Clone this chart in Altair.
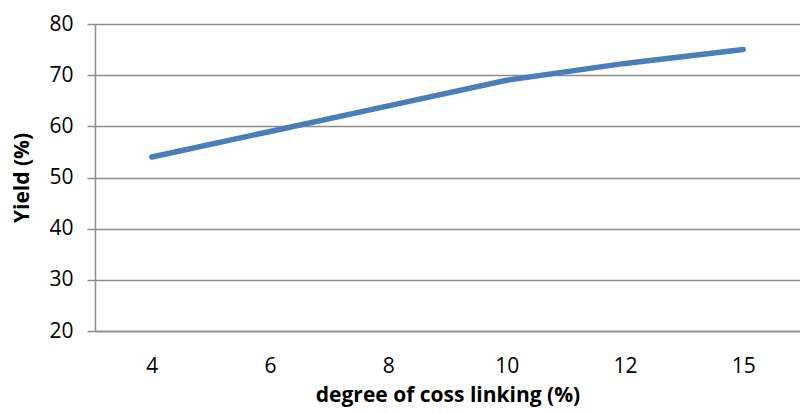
import altair as alt
import pandas as pd

crosslink = ["4", "6", "8", "10", "12", "15"]
yield_pct = [54, 59, 64, 69, 72.3, 75]

df = pd.DataFrame({"x": crosslink, "y": yield_pct})

FONT = "Open Sans"
GRID = "#8c8c8c"

chart = alt.Chart(df).mark_line(color="#4a7ebb", strokeWidth=5.5, strokeCap="round").encode(
    x=alt.X("x:O", sort=crosslink,
            scale=alt.Scale(type="point", padding=0.48),
            axis=alt.Axis(title="degree of coss linking (%)", labelAngle=0,
                          ticks=False, domain=True, domainColor=GRID, domainWidth=1.5,
                          labelPadding=24, titlePadding=8, grid=False)),
    y=alt.Y("y:Q",
            scale=alt.Scale(domain=[20, 80]),
            axis=alt.Axis(title="Yield (%)", values=[20, 30, 40, 50, 60, 70, 80],
                          tickSize=8, tickColor=GRID, tickWidth=1.5,
                          domainColor=GRID, domainWidth=1.5,
                          gridColor=GRID, gridWidth=1.5, gridOpacity=1,
                          labelPadding=14, titlePadding=16)),
).properties(
    width=705, height=307,
    autosize=alt.AutoSizeParams(type="none"),
    padding={"left": 95, "top": 24, "right": 0, "bottom": 83},
).configure_axis(
    labelFont=FONT, titleFont=FONT, labelFontSize=21, titleFontSize=21,
    labelColor="#000000", titleColor="#000000", titleFontWeight="bold",
).configure_view(stroke=None)

chart.save("out.html", embed_options={"renderer": "svg", "actions": False})
